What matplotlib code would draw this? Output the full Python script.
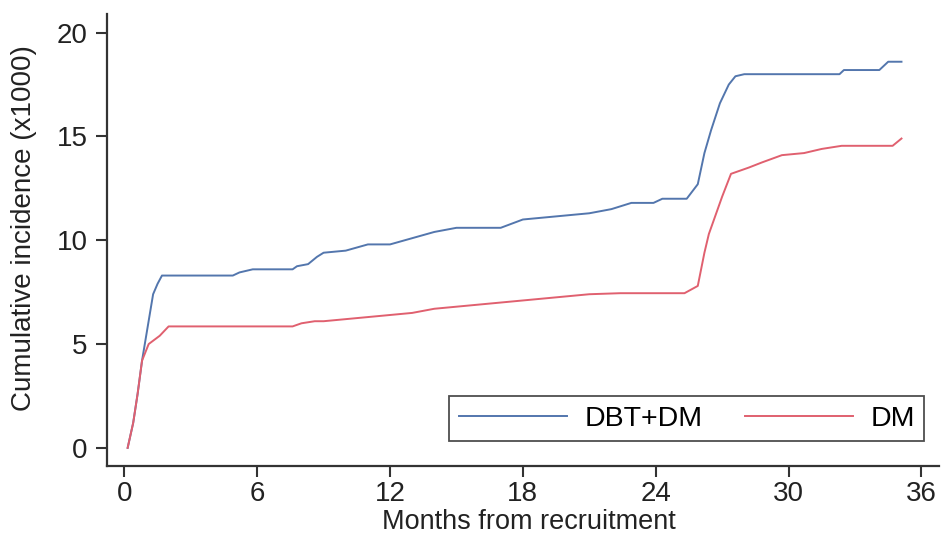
import matplotlib
matplotlib.use("Agg")
import matplotlib.pyplot as plt

plt.rcParams['font.family'] = ['Liberation Sans', 'DejaVu Sans']

# months from recruitment / cumulative incidence (x1000)
dbt_months = [0.15, 0.4, 0.6, 0.8, 1.05, 1.3, 1.5, 1.7, 4.9, 5.2, 5.8, 7.6, 7.8, 8.3, 8.7,
              9.0, 10.0, 11.0, 12.0, 13.0, 14.0, 15.0, 16.0, 17.0, 18.0, 19.0, 20.0,
              21.0, 22.0, 22.9, 23.9, 24.3, 25.4, 25.9, 26.2, 26.5, 26.9, 27.3, 27.6,
              28.0, 32.3, 32.5, 34.1, 34.5, 35.1]
dbt_values = [0.0, 1.2, 2.6, 4.2, 5.8, 7.4, 7.9, 8.3, 8.3, 8.45, 8.6, 8.6, 8.75, 8.85, 9.2,
              9.4, 9.5, 9.8, 9.8, 10.1, 10.4, 10.6, 10.6, 10.6, 11.0, 11.1, 11.2,
              11.3, 11.5, 11.8, 11.8, 12.0, 12.0, 12.7, 14.2, 15.3, 16.6, 17.5, 17.9,
              18.0, 18.0, 18.2, 18.2, 18.6, 18.6]

dm_months = [0.15, 0.4, 0.6, 0.8, 1.1, 1.6, 2.0, 7.6, 8.0, 8.6, 9.0, 10.0, 11.0, 12.0,
             13.0, 14.0, 15.0, 16.0, 17.0, 18.0, 19.0, 20.0, 21.0, 22.4, 25.3, 25.9,
             26.2, 26.4, 27.0, 27.4, 28.2, 28.8, 29.7, 30.7, 31.5, 32.4, 34.7, 35.1]
dm_values = [0.0, 1.2, 2.6, 4.2, 5.0, 5.4, 5.85, 5.85, 6.0, 6.1, 6.1, 6.2, 6.3, 6.4,
             6.5, 6.7, 6.8, 6.9, 7.0, 7.1, 7.2, 7.3, 7.4, 7.45, 7.45, 7.8,
             9.4, 10.3, 12.1, 13.2, 13.5, 13.75, 14.1, 14.2, 14.4, 14.55, 14.55, 14.9]

x_ticks = [0, 6, 12, 18, 24, 30, 36]
y_ticks = [0, 5, 10, 15, 20]

fig = plt.figure(figsize=(9.41, 5.38), dpi=100)
ax = fig.add_axes([0.114, 0.134, 0.884, 0.84])

ax.plot(dbt_months, dbt_values, color='#5376ad', lw=1.4, label='DBT+DM')
ax.plot(dm_months, dm_values, color='#e0606f', lw=1.4, label='DM')

ax.set_xlim(-0.77, 36.8)
ax.set_ylim(-0.87, 20.9)
ax.set_xticks(x_ticks)
ax.set_yticks(y_ticks)
ax.tick_params(labelsize=20, length=8, width=1.5, color='#333333', labelcolor='#222222')
ax.tick_params(axis='y', pad=6)
ax.tick_params(axis='x', pad=3)
for s in ['top', 'right']:
    ax.spines[s].set_visible(False)
for s in ['left', 'bottom']:
    ax.spines[s].set_linewidth(1.6)
    ax.spines[s].set_color('#333333')

ax.set_xlabel('Months from recruitment', fontsize=19.5, color='#222222', va='top')
ax.xaxis.set_label_coords(0.507, -0.095)
ax.set_ylabel('Cumulative incidence (x1000)', fontsize=20, color='#222222')
ax.yaxis.set_label_coords(-0.085, 0.527)

leg = ax.legend(loc='lower right', bbox_to_anchor=(0.982, 0.055), ncol=2, fontsize=20.5,
                frameon=True, fancybox=False, edgecolor='#222222', handlelength=3.8,
                handletextpad=0.6, columnspacing=1.5, borderaxespad=0, borderpad=0.33)
leg.get_frame().set_linewidth(1.3)

fig.savefig('out.png', dpi=100)
